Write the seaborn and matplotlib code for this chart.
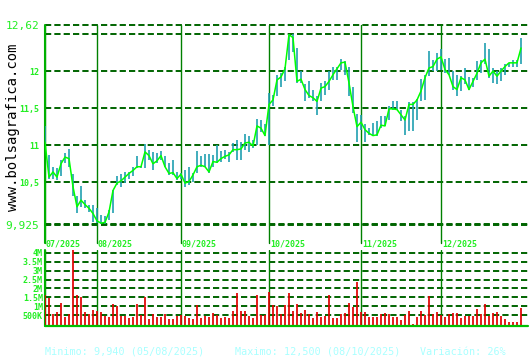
import numpy as np
import matplotlib
matplotlib.use("Agg")
import matplotlib.pyplot as plt
import matplotlib.transforms as mtransforms
import seaborn as sns

# ---------------- data ----------------
close = [11.04, 10.57, 10.64, 10.57, 10.75, 10.84, 10.82, 10.44, 10.17, 10.26,
         10.20, 10.15, 10.08, 9.98, 9.95, 9.96, 10.10, 10.39, 10.49, 10.52,
         10.57, 10.62, 10.66, 10.71, 10.71, 10.91, 10.86, 10.75, 10.79, 10.86,
         10.71, 10.62, 10.63, 10.55, 10.61, 10.49, 10.51, 10.60, 10.71, 10.73,
         10.71, 10.64, 10.78, 10.77, 10.82, 10.85, 10.87, 10.94, 10.94, 10.95,
         11.03, 11.04, 10.99, 11.26, 11.23, 11.13, 11.55, 11.61, 11.88, 11.92,
         12.03, 12.49, 12.45, 11.86, 11.89, 11.75, 11.67, 11.64, 11.59, 11.77,
         11.79, 11.86, 11.95, 12.03, 12.11, 12.12, 11.84, 11.52, 11.25, 11.31,
         11.21, 11.16, 11.13, 11.14, 11.27, 11.26, 11.49, 11.49, 11.48, 11.41,
         11.34, 11.55, 11.55, 11.61, 11.73, 11.91, 12.04, 12.06, 12.16, 12.19,
         12.02, 11.95, 11.79, 11.75, 11.91, 11.88, 11.75, 11.86, 11.97, 12.11,
         12.16, 11.93, 12.00, 11.93, 12.00, 12.06, 12.11, 12.11, 12.11, 12.31]

high = [11.26, 10.87, 10.71, 10.69, 10.80, 10.90, 10.95, 10.61, 10.31, 10.45,
        10.26, 10.19, 10.19, 10.15, 10.06, 10.05, 10.13, 10.40, 10.58, 10.61,
        10.64, 10.64, 10.71, 10.86, 10.72, 11.02, 10.94, 10.91, 10.89, 10.92,
        10.86, 10.76, 10.80, 10.64, 10.63, 10.66, 10.71, 10.63, 10.92, 10.86,
        10.88, 10.88, 10.87, 11.00, 10.92, 10.94, 10.91, 11.03, 11.07, 11.04,
        11.15, 11.12, 11.07, 11.35, 11.34, 11.29, 11.70, 11.68, 11.95, 11.97,
        12.06, 12.50, 12.50, 12.31, 12.00, 11.82, 11.87, 11.74, 11.66, 11.84,
        11.87, 12.00, 12.06, 12.06, 12.16, 12.13, 12.06, 11.79, 11.42, 11.41,
        11.29, 11.23, 11.30, 11.32, 11.39, 11.39, 11.53, 11.60, 11.60, 11.47,
        11.39, 11.58, 11.58, 11.62, 11.89, 11.95, 12.27, 12.15, 12.24, 12.29,
        12.16, 12.18, 12.00, 11.94, 11.93, 12.04, 11.92, 11.91, 12.13, 12.15,
        12.38, 12.29, 12.04, 12.00, 12.04, 12.09, 12.11, 12.15, 12.15, 12.45]

low = [10.98, 10.55, 10.55, 10.53, 10.58, 10.76, 10.71, 10.31, 10.08, 10.17,
       10.15, 10.10, 9.97, 9.95, 9.94, 9.94, 9.99, 10.09, 10.46, 10.44,
       10.49, 10.55, 10.58, 10.69, 10.69, 10.69, 10.80, 10.67, 10.76, 10.80,
       10.71, 10.60, 10.60, 10.53, 10.55, 10.44, 10.46, 10.51, 10.62, 10.71,
       10.71, 10.63, 10.71, 10.76, 10.78, 10.82, 10.78, 10.91, 10.80, 10.80,
       10.94, 10.91, 10.96, 11.00, 11.18, 11.12, 11.00, 11.53, 11.66, 11.79,
       11.86, 12.15, 12.25, 11.84, 11.84, 11.59, 11.64, 11.59, 11.41, 11.59,
       11.68, 11.75, 11.88, 11.88, 12.02, 11.95, 11.66, 11.43, 11.04, 11.21,
       11.04, 11.14, 11.12, 11.12, 11.23, 11.26, 11.34, 11.48, 11.48, 11.32,
       11.14, 11.19, 11.19, 11.34, 11.59, 11.61, 11.93, 12.00, 12.00, 12.02,
       11.97, 11.95, 11.75, 11.66, 11.73, 11.82, 11.75, 11.79, 11.88, 11.97,
       12.09, 11.91, 11.84, 11.82, 11.86, 11.95, 12.05, 12.05, 12.05, 12.09]

volume_m = [1.63, 1.48, 0.57, 0.70, 1.19, 0.43, 0.57, 4.13, 1.63, 1.52,
            0.70, 0.57, 0.80, 0.76, 0.70, 0.48, 0.43, 1.13, 1.02, 0.48,
            0.48, 0.33, 0.43, 1.13, 0.52, 1.52, 0.31, 0.57, 0.43, 0.43,
            0.57, 0.31, 0.31, 0.48, 0.50, 0.46, 0.37, 0.31, 1.07, 0.37,
            0.48, 0.43, 0.63, 0.52, 0.37, 0.43, 0.37, 0.74, 1.74, 0.74,
            0.74, 0.48, 0.37, 1.63, 0.52, 0.52, 1.78, 1.07, 1.02, 0.58,
            1.07, 1.74, 0.74, 1.13, 0.61, 0.80, 0.57, 0.37, 0.69, 0.43,
            0.48, 1.63, 0.37, 0.37, 0.57, 0.63, 1.19, 0.96, 2.37, 0.69,
            0.69, 0.43, 0.43, 0.43, 0.57, 0.63, 0.57, 0.43, 0.43, 0.24,
            0.52, 0.74, 0.02, 0.43, 0.74, 0.52, 1.57, 0.57, 0.69, 0.52,
            0.43, 0.57, 0.63, 0.63, 0.37, 0.48, 0.48, 0.48, 0.85, 0.57,
            1.13, 0.48, 0.63, 0.69, 0.48, 0.31, 0.13, 0.13, 0.13, 0.91]

month_labels = ["07/2025", "08/2025", "09/2025", "10/2025", "11/2025", "12/2025"]
month_start = [0, 13, 34, 56, 79, 99]

price_ticks = [9.925, 10.5, 11, 11.5, 12, 12.62]
price_tick_labels = ["9,925", "10,5", "11", "11,5", "12", "12,62"]
vol_ticks = [0.5, 1, 1.5, 2, 2.5, 3, 3.5, 4]
vol_tick_labels = ["500K", "1M", "1.5M", "2M", "2.5M", "3M", "3.5M", "4M"]

min_price, min_date = 9.940, "05/08/2025"
max_price, max_date = 12.500, "08/10/2025"
variation = "26%"

# ---------------- style ----------------
sns.set_theme(style="white")
MONO = ["DejaVu Sans Mono"]
plt.rcParams["font.family"] = MONO

GRID = "#006400"
MLINE = "#008000"
LBL = "#22ee22"

W, H = 530, 360
fig = plt.figure(figsize=(W / 100, H / 100), dpi=100)
fig.patch.set_facecolor("white")

x0, x1 = 45, 528
ax = fig.add_axes([x0 / W, 1 - 225 / H, (x1 - x0) / W, 200 / H])
axv = fig.add_axes([x0 / W, 1 - 326 / H, (x1 - x0) / W, 76 / H])

idx = np.arange(len(close))
xmax = (x1 - x0) / 4.0

dash = (0, (3.2, 1.6))

# ---- price panel ----
for a in (ax, axv):
    a.set_facecolor("white")
    for s in a.spines.values():
        s.set_visible(False)
    a.set_xlim(0, xmax)
    a.set_xticks([])

for y in price_ticks + [max_price, min_price]:
    ax.axhline(y, color=GRID, lw=1.4, ls=dash, clip_on=False, zorder=1)

for m in month_start:
    ax.axvline(m, ymin=-0.09, ymax=1, color=MLINE, lw=1.0, clip_on=False, zorder=2)
ax.axvline(0, ymin=-0.09, ymax=1, color="#00b000", lw=1.5, clip_on=False, zorder=2)

ax.vlines(idx, low, high, color="#20a0b0", lw=1.2, zorder=3)
sns.lineplot(x=idx, y=close, ax=ax, color="#00ff00", lw=1.1, zorder=4, legend=False)

ax.set_ylim(price_ticks[0], price_ticks[-1])
ax.set_yticks(price_ticks, price_tick_labels)
ax.set_ylabel("")
ax.tick_params(axis="y", length=0, pad=4, colors=LBL)
for t in ax.get_yticklabels():
    if t.get_text() in ("12,62", "9,925"):
        t.set_fontsize(8)
        t.set_fontweight("normal")
    else:
        t.set_fontsize(6)
        t.set_fontweight("bold")
    t.set_family(MONO)

trans = mtransforms.blended_transform_factory(ax.transData, ax.transAxes)
for m, lab in zip(month_start, month_labels):
    ax.text(m + 0.2, -0.095, lab, transform=trans, ha="left", va="center",
            fontsize=6, color=LBL, fontweight="bold", family=MONO)

# ---- volume panel ----
vbottom = -0.1
for y in vol_ticks:
    axv.axhline(y, color=GRID, lw=1.4, ls=dash, zorder=1)
for m in month_start:
    axv.axvline(m, color=MLINE, lw=1.0, zorder=2)
axv.axvline(0, color="#00b000", lw=1.5, clip_on=False, zorder=2)
axv.vlines(idx, vbottom, volume_m, color="#e00000", lw=1.25, zorder=3)
axv.axhline(vbottom, color="#00c000", lw=1.6, clip_on=False, zorder=4)
axv.set_ylim(vbottom, 4.15)
axv.set_yticks(vol_ticks, vol_tick_labels)
axv.tick_params(axis="y", length=0, pad=1.5, colors=LBL)
for t in axv.get_yticklabels():
    t.set_fontsize(6)
    t.set_fontweight("bold")
    t.set_family(MONO)

# ---- texts ----
fig.text(13 / W, 1 - 127 / H, "www.bolsagrafica.com", rotation=90, ha="center",
         va="center", fontsize=10, color="black", family=MONO)
ycap = 1 - 352 / H
fig.text(45 / W, ycap, f"Minimo: {min_price:.3f} ({min_date})".replace(".", ","),
         ha="left", va="center", fontsize=7.3, color="#aaffff", family=MONO)
fig.text(235 / W, ycap, f"Maximo: {max_price:.3f} ({max_date})".replace(".", ","),
         ha="left", va="center", fontsize=7.3, color="#aaffff", family=MONO)
fig.text(420 / W, ycap, f"Variación: {variation}",
         ha="left", va="center", fontsize=7.3, color="#aaffff", family=MONO)

fig.savefig("out.png", dpi=100, facecolor="white")
